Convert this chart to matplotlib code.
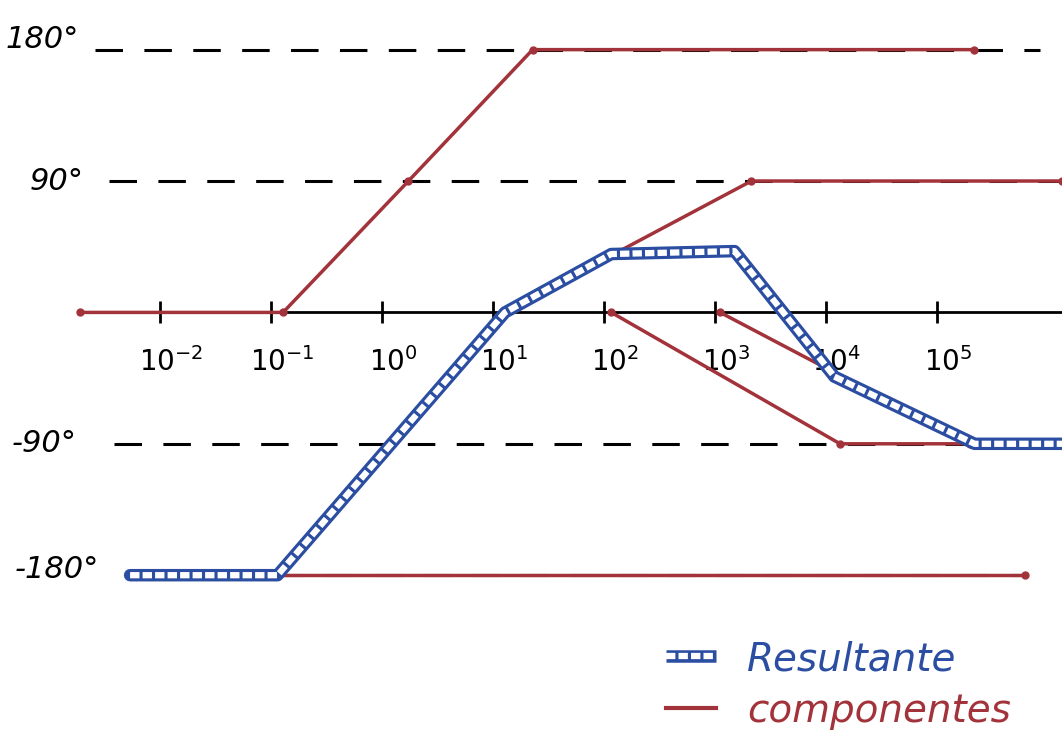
import matplotlib
matplotlib.use("Agg")
import matplotlib.pyplot as plt
from matplotlib.legend_handler import HandlerTuple

# componentes (frecuencia en rad/s, fase en grados)
comp_a_f = [0.0019, 0.129, 1.74, 22.9, 2.19e5]
comp_a_deg = [0, 0, 90, 180, 180]

comp_b_f = [12.9, 117, 2140, 1.35e6]
comp_b_deg = [0, 39, 90, 90]

comp_c_f = [117, 13500, 1.35e6]
comp_c_deg = [0, -90, -90]

comp_d_f = [1120, 2.0e5, 1.35e6]
comp_d_deg = [0, -90, -90]

comp_e_f = [0.11, 6.2e5]
comp_e_deg = [-180, -180]

# resultante
res_f = [0.0054, 0.115, 12.9, 117, 1510, 12000, 2.2e5, 1.35e6]
res_deg = [-180, -180, 0, 40, 42, -44, -90, -90]

# ejes y guias
axis_f = [0.0019, 1.35e6]
guide_deg = [180, 90, -90, -180]
guide_start = [0.0026, 0.0035, 0.0039, 0.0054]
guide_end = [8.5e5, 1.35e6, 1.35e6, 6.2e5]
guide_labels = ["180°", "90°", "-90°", "-180°"]

dec_exp = [-2, -1, 0, 1, 2, 3, 4, 5]
dec_labels = [r"$10^{-2}$", r"$10^{-1}$", r"$10^{0}$", r"$10^{1}$",
              r"$10^{2}$", r"$10^{3}$", r"$10^{4}$", r"$10^{5}$"]

red = "#a3333a"
blue = "#2b4ea2"

fig = plt.figure(figsize=(10.62, 7.46), dpi=100)
ax = fig.add_axes([0, 0, 1, 1])
ax.set_xscale("log")
ax.set_xlim(10 ** -3.44, 10 ** 6.13)
ax.set_ylim(-297, 214)
ax.axis("off")

# lineas guia punteadas
for g, s, e in zip(guide_deg, guide_start, guide_end):
    ax.plot([s, e], [g, g], color="black", lw=2.2, ls=(0, (9, 7)), zorder=1)

# eje de frecuencia
ax.plot(axis_f, [0, 0], color="black", lw=2, zorder=2)
dec_f = [10.0 ** e for e in dec_exp]
ax.plot(dec_f, [0] * len(dec_f), ls="none", marker="|", ms=16, mew=2,
        color="black", zorder=2)
for f, lab in zip(dec_f, dec_labels):
    ax.annotate(lab, (f, 0), xytext=(8, -36), textcoords="offset points",
                ha="center", va="center", fontsize=20, style="italic")

# etiquetas del eje de fase
for g, lab, xo in zip(guide_deg, guide_labels, [0.005, 0.028, 0.011, 0.014]):
    yo = {180: 7, 90: 0, -90: 0, -180: 4}[g]
    ax.text(xo, g + yo, lab, transform=ax.get_yaxis_transform(),
            ha="left", va="center", fontsize=22, style="italic")

# componentes
for f, d in [(comp_a_f, comp_a_deg), (comp_b_f, comp_b_deg),
             (comp_c_f, comp_c_deg), (comp_d_f, comp_d_deg),
             (comp_e_f, comp_e_deg)]:
    ax.plot(f, d, color=red, lw=2.5, marker="o", ms=5, zorder=3)
comp_handle = plt.Line2D([], [], color=red, lw=3)

# resultante (trazo tipo cadena)
res_out, = ax.plot(res_f, res_deg, color=blue, lw=9, solid_capstyle="round",
                   solid_joinstyle="round", zorder=4)
res_in, = ax.plot(res_f, res_deg, color="white", lw=4.5,
                  ls=(0, (1.5, 0.5)), zorder=5)
res_h_out = plt.Line2D([], [], color=blue, lw=9, solid_capstyle="butt")
res_h_in = plt.Line2D([], [], color="white", lw=4.5, ls=(0, (1.5, 0.5)))

ax.legend([(res_h_out, res_h_in), comp_handle], ["Resultante", "componentes"],
          handler_map={tuple: HandlerTuple(ndivide=1, pad=0)},
          loc="lower right", bbox_to_anchor=(0.985, -0.025), frameon=False,
          prop={"style": "italic", "size": 28},
          labelcolor=[blue, red], handlelength=1.3, handletextpad=0.8,
          labelspacing=0.35)

fig.savefig("out.png", dpi=100, facecolor="white")
